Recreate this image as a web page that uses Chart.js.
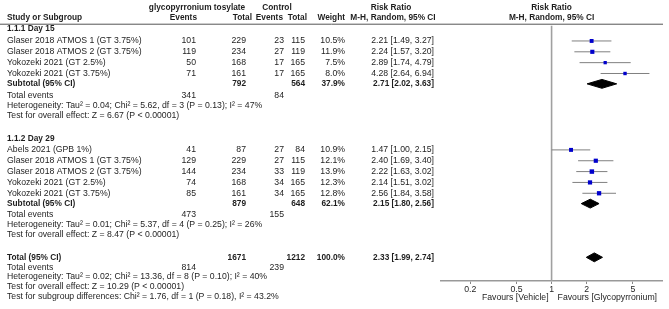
<!DOCTYPE html>
<html>
<head>
<meta charset="utf-8">
<script src="https://cdn.jsdelivr.net/npm/chart.js@4/dist/chart.umd.min.js"></script>
<style>
  html, body { margin: 0; padding: 0; background: #fff; }
  #wrap { width: 669px; height: 309px; }
</style>
</head>
<body>
<div id="wrap"><canvas id="forest" width="669" height="309"></canvas></div>
<script>
// --- data: subgroup 1.1.1 Day 15
const studies15 = ['Glaser 2018 ATMOS 1 (GT 3.75%)', 'Glaser 2018 ATMOS 2 (GT 3.75%)', 'Yokozeki 2021 (GT 2.5%)', 'Yokozeki 2021 (GT 3.75%)'];
const gtEvents15 = [101, 119, 50, 71];
const gtTotal15 = [229, 234, 168, 161];
const ctEvents15 = [23, 27, 17, 17];
const ctTotal15 = [115, 119, 165, 165];
const weight15 = [10.5, 11.9, 7.5, 8.0];
const rr15 = [2.21, 2.24, 2.89, 4.28];
const lo15 = [1.49, 1.57, 1.74, 2.64];
const hi15 = [3.27, 3.20, 4.79, 6.94];
const sub15 = [2.71, 2.02, 3.63];          // est, lo, hi
const sub15Totals = [792, 564, 37.9];      // gt total, ctrl total, weight
const sub15Events = [341, 84];
const het15 = 'Heterogeneity: Tau² = 0.04; Chi² = 5.62, df = 3 (P = 0.13); I² = 47%';
const test15 = 'Test for overall effect: Z = 6.67 (P < 0.00001)';

// --- data: subgroup 1.1.2 Day 29
const studies29 = ['Abels 2021 (GPB 1%)', 'Glaser 2018 ATMOS 1 (GT 3.75%)', 'Glaser 2018 ATMOS 2 (GT 3.75%)', 'Yokozeki 2021 (GT 2.5%)', 'Yokozeki 2021 (GT 3.75%)'];
const gtEvents29 = [41, 129, 144, 74, 85];
const gtTotal29 = [87, 229, 234, 168, 161];
const ctEvents29 = [27, 27, 33, 34, 34];
const ctTotal29 = [84, 115, 119, 165, 165];
const weight29 = [10.9, 12.1, 13.9, 12.3, 12.8];
const rr29 = [1.47, 2.40, 2.22, 2.14, 2.56];
const lo29 = [1.00, 1.69, 1.63, 1.51, 1.84];
const hi29 = [2.15, 3.40, 3.02, 3.02, 3.58];
const sub29 = [2.15, 1.80, 2.56];
const sub29Totals = [879, 648, 62.1];
const sub29Events = [473, 155];
const het29 = 'Heterogeneity: Tau² = 0.01; Chi² = 5.37, df = 4 (P = 0.25); I² = 26%';
const test29 = 'Test for overall effect: Z = 8.47 (P < 0.00001)';

// --- overall
const total = [2.33, 1.99, 2.74];
const totalTotals = [1671, 1212, 100.0];
const totalEvents = [814, 239];
const hetAll = 'Heterogeneity: Tau² = 0.02; Chi² = 13.36, df = 8 (P = 0.10); I² = 40%';
const testAll = 'Test for overall effect: Z = 10.29 (P < 0.00001)';
const testSub = 'Test for subgroup differences: Chi² = 1.76, df = 1 (P = 0.18), I² = 43.2%';

// axis
const tickVals = [0.2, 0.5, 1, 2, 5];
const axisMin = 0.112, axisMax = 8.9;

// --- layout (pixel rows, y scale is in pixels)
const lay = {};
lay.head1 = 4; lay.head2 = 14; lay.rule = 20;
lay.g15 = 25.5;
lay.rows15 = studies15.map((s, i) => 37.5 + i * 11);
lay.sub15 = lay.rows15[lay.rows15.length - 1] + 10.5;
lay.ev15 = lay.sub15 + 11.5; lay.het15 = lay.ev15 + 10.5; lay.test15 = lay.het15 + 10.5;
lay.g29 = lay.test15 + 23;
lay.rows29 = studies29.map((s, i) => lay.g29 + 11.5 + i * 11);
lay.sub29 = lay.rows29[lay.rows29.length - 1] + 10.5;
lay.ev29 = lay.sub29 + 11.5; lay.het29 = lay.ev29 + 10; lay.test29 = lay.het29 + 10;
lay.total = lay.test29 + 23;
lay.evAll = lay.total + 10; lay.hetAll = lay.evAll + 10; lay.testAll = lay.hetAll + 10; lay.testSub = lay.testAll + 10;
const axisY = 281;

const rr = (e, l, h) => `${e.toFixed(2)} [${l.toFixed(2)}, ${h.toFixed(2)}]`;

// datasets
const datasets = [];
function addStudies(rows, est, lo, hi, w) {
    est.forEach((v, i) => {
        datasets.push({
            data: [{ x: lo[i], y: rows[i] }, { x: hi[i], y: rows[i] }],
            showLine: true, borderColor: '#808080', borderWidth: 1, pointRadius: 0, order: 2
        });
    });
    datasets.push({
        data: est.map((v, i) => ({ x: v, y: rows[i] })),
        pointStyle: 'rect', pointRadius: w.map(x => Math.sqrt(x) * 0.85),
        backgroundColor: '#0000cc', borderWidth: 0, order: 0
    });
}
function addDiamond(y, s) {
    const h = 4.5;
    datasets.push({
        data: [{ x: s[1], y: y }, { x: s[0], y: y - h }, { x: s[2], y: y }, { x: s[0], y: y + h }, { x: s[1], y: y }],
        showLine: true, fill: 'shape', backgroundColor: '#000', borderColor: '#000', borderWidth: 1,
        pointRadius: 0, tension: 0, order: 1
    });
}
datasets.push({
    data: [{ x: 1, y: 22 }, { x: 1, y: axisY }],
    showLine: true, borderColor: '#a0a0a0', borderWidth: 1.6, pointRadius: 0, order: 3
});
addStudies(lay.rows15, rr15, lo15, hi15, weight15);
addDiamond(lay.sub15, sub15);
addStudies(lay.rows29, rr29, lo29, hi29, weight29);
addDiamond(lay.sub29, sub29);
addDiamond(lay.total, total);

const FONT = '"Liberation Sans", Arial, sans-serif';
const txtCol = '#1e1e1e';

// table text drawn around the plot
const tablePlugin = {
    id: 'table',
    afterDraw(chart) {
        const ctx = chart.ctx;
        const ys = chart.scales.y;
        const xOne = chart.scales.x.getPixelForValue(1);
        const Y = v => ys.getPixelForValue(v);
        ctx.save();
        ctx.fillStyle = txtCol;
        ctx.textBaseline = 'middle';
        function t(s, x, y, align, bold) {
            ctx.font = (bold ? 'bold 8.3px ' : '8.7px ') + FONT;
            ctx.textAlign = align || 'left';
            ctx.fillText(s, x, Y(y));
        }
        // header
        t('glycopyrronium tosylate', 197, lay.head1, 'center', true);
        t('Control', 277, lay.head1, 'center', true);
        t('Risk Ratio', 391, lay.head1, 'center', true);
        t('Risk Ratio', xOne, lay.head1, 'center', true);
        t('Study or Subgroup', 7, lay.head2, 'left', true);
        t('Events', 197, lay.head2, 'right', true);
        t('Total', 252, lay.head2, 'right', true);
        t('Events', 283, lay.head2, 'right', true);
        t('Total', 307, lay.head2, 'right', true);
        t('Weight', 345, lay.head2, 'right', true);
        t('M-H, Random, 95% CI', 393, lay.head2, 'center', true);
        t('M-H, Random, 95% CI', xOne, lay.head2, 'center', true);
        ctx.strokeStyle = '#555';
        ctx.lineWidth = 1;
        ctx.beginPath();
        ctx.moveTo(0, Y(lay.rule) + 0.5);
        ctx.lineTo(663, Y(lay.rule) + 0.5);
        ctx.stroke();

        function group(title, rows, names, ge, gt, ce, ct, w, est, lo, hi, sub, subT, subE, het, test, ly) {
            t(title, 7, ly.g, 'left', true);
            names.forEach((n, i) => {
                const y = rows[i];
                t(n, 7, y);
                t(String(ge[i]), 196, y, 'right');
                t(String(gt[i]), 246, y, 'right');
                t(String(ce[i]), 284, y, 'right');
                t(String(ct[i]), 305, y, 'right');
                t(w[i].toFixed(1) + '%', 345, y, 'right');
                t(rr(est[i], lo[i], hi[i]), 434, y, 'right');
            });
            t('Subtotal (95% CI)', 7, ly.sub, 'left', true);
            t(String(subT[0]), 246, ly.sub, 'right', true);
            t(String(subT[1]), 305, ly.sub, 'right', true);
            t(subT[2].toFixed(1) + '%', 345, ly.sub, 'right', true);
            t(rr(sub[0], sub[1], sub[2]), 434, ly.sub, 'right', true);
            t('Total events', 7, ly.ev);
            t(String(subE[0]), 196, ly.ev, 'right');
            t(String(subE[1]), 284, ly.ev, 'right');
            t(het, 7, ly.het);
            t(test, 7, ly.test);
        }
        group('1.1.1 Day 15', lay.rows15, studies15, gtEvents15, gtTotal15, ctEvents15, ctTotal15, weight15, rr15, lo15, hi15,
            sub15, sub15Totals, sub15Events, het15, test15, { g: lay.g15, sub: lay.sub15, ev: lay.ev15, het: lay.het15, test: lay.test15 });
        group('1.1.2 Day 29', lay.rows29, studies29, gtEvents29, gtTotal29, ctEvents29, ctTotal29, weight29, rr29, lo29, hi29,
            sub29, sub29Totals, sub29Events, het29, test29, { g: lay.g29, sub: lay.sub29, ev: lay.ev29, het: lay.het29, test: lay.test29 });

        t('Total (95% CI)', 7, lay.total, 'left', true);
        t(String(totalTotals[0]), 246, lay.total, 'right', true);
        t(String(totalTotals[1]), 305, lay.total, 'right', true);
        t(totalTotals[2].toFixed(1) + '%', 345, lay.total, 'right', true);
        t(rr(total[0], total[1], total[2]), 434, lay.total, 'right', true);
        t('Total events', 7, lay.evAll);
        t(String(totalEvents[0]), 196, lay.evAll, 'right');
        t(String(totalEvents[1]), 284, lay.evAll, 'right');
        t(hetAll, 7, lay.hetAll);
        t(testAll, 7, lay.testAll);
        t(testSub, 7, lay.testSub);

        // favours labels under the axis
        t('Favours [Vehicle]', xOne - 3, 298, 'right');
        t('Favours [Glycopyrronium]', xOne + 6, 298, 'left');
        ctx.restore();
    }
};

new Chart(document.getElementById('forest'), {
    type: 'scatter',
    data: { datasets: datasets },
    options: {
        responsive: false,
        animation: false,
        devicePixelRatio: 1,
        layout: { padding: { left: 441, right: 7, top: 0, bottom: 0 } },
        plugins: { legend: { display: false }, tooltip: { enabled: false } },
        scales: {
            x: {
                type: 'logarithmic',
                min: axisMin, max: axisMax,
                afterBuildTicks: s => { s.ticks = tickVals.map(v => ({ value: v })); },
                afterFit: s => { s.height = 309 - axisY; },
                ticks: {
                    callback: v => String(v), color: txtCol, padding: 0,
                    font: { family: FONT, size: 8.7 }, maxRotation: 0, autoSkip: false
                },
                grid: { drawOnChartArea: false, drawTicks: true, tickLength: 3, color: '#888', lineWidth: 1 },
                border: { display: true, color: '#999', width: 1.6 }
            },
            y: { type: 'linear', min: 0, max: axisY, reverse: true, display: false }
        }
    },
    plugins: [tablePlugin]
});
</script>
</body>
</html>
